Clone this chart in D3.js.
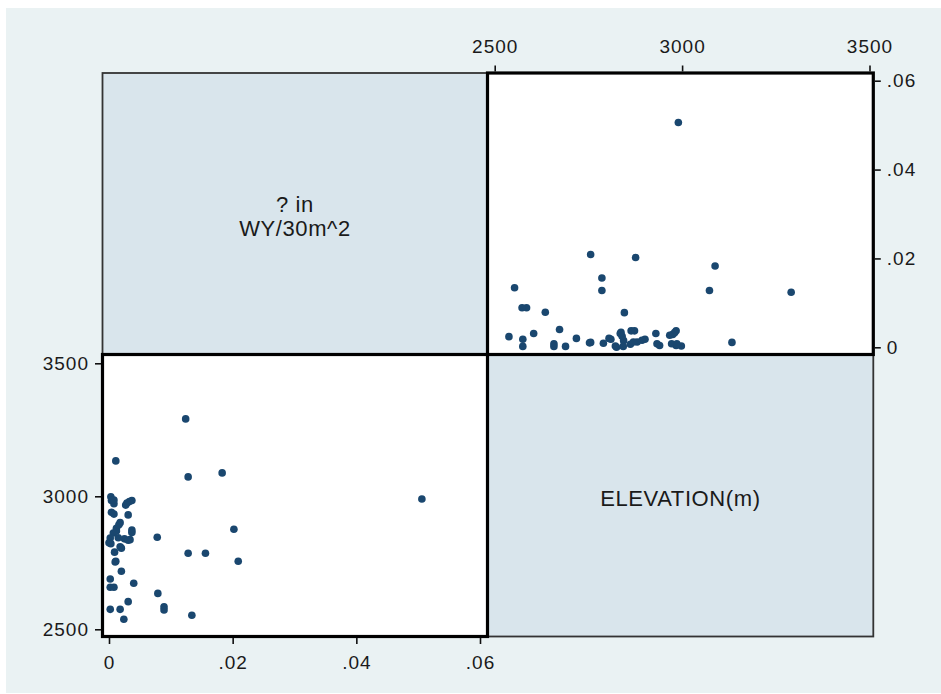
<!DOCTYPE html>
<html>
<head>
<meta charset="utf-8">
<script src="https://cdn.jsdelivr.net/npm/d3@7"></script>
<style>
	body { margin: 0; background: #ffffff; }
	svg text { font-family: Arial, "Liberation Sans", sans-serif; fill: #1a1a1a; }
	.tick text { font-size: 19px; letter-spacing: 1px; }
	.tick line { stroke: #111; stroke-width: 1.6; }
	.diagLabel { font-size: 22px; letter-spacing: 0.6px; }
</style>
</head>
<body>
<div id="chart"></div>
<script>

/**************************************************
 *                                                *
 *  DATA                                          *
 *                                                *
 **************************************************/

// variable names shown on the diagonal
var varLabels = [["? in", "WY/30m^2"], ["ELEVATION(m)"]];

// one observation per index: elevation (m) and ? in WY/30m^2
var elevation = [
	3291, 3133, 3088, 3073, 2990, 2998, 2984, 2940, 2984, 2980,
	2975, 2967, 2930, 2901, 2880, 2873, 2876, 2862, 2846, 2844,
	2843, 2840, 2837, 2825, 2822, 2810, 2805, 2790, 2786, 2786,
	2756, 2756, 2718, 2689, 2658, 2658, 2673, 2635, 2604, 2575,
	2575, 2585, 2573, 2538, 2553, 2835, 2864, 2870, 2933, 2972,
	2986, 2753, 2893
];
var wyValue = [
	0.0124, 0.0011, 0.0183, 0.0128, 0.0506, 0.0003, 0.0004, 0.0004, 0.0037, 0.0033,
	0.0029, 0.0027, 0.0031, 0.0018, 0.0012, 0.0037, 0.0202, 0.0007, 0.0078, 0.0015,
	0.0002, 0.0025, 0.0034, 0.0000, 0.0003, 0.0018, 0.0020, 0.0009, 0.0128, 0.0156,
	0.0011, 0.0209, 0.0020, 0.0002, 0.0002, 0.0008, 0.0040, 0.0079, 0.0031, 0.0002,
	0.0018, 0.0089, 0.0089, 0.0024, 0.0134, 0.0031, 0.0037, 0.0012, 0.0008, 0.0008,
	0.0008, 0.0010, 0.0016
];

// axis ticks
var elevTicks = [2500, 3000, 3500];
var wyTicks = [0, 0.02, 0.04, 0.06];


/**************************************************
 *                                                *
 *  SVG / PANELS                                  *
 *                                                *
 **************************************************/

var W = 941, H = 694;

// panel grid edges
var gx = [102.5, 487.5, 873.3],
	gy = [73, 354.5, 636.5];

var svg = d3.select('#chart').append('svg')
	.attr('width', W)
	.attr('height', H);

// outer graph region
svg.append('rect')
	.attr('x', 6).attr('y', 8)
	.attr('width', W - 6).attr('height', H - 9)
	.attr('fill', '#eaf2f3');

var points = elevation.map(function (e, i) { return { elev: e, wy: wyValue[i] }; });


//************ DIAGONAL ************

var diag = [
	{ x0: gx[0], x1: gx[1], y0: gy[0], y1: gy[1], lines: varLabels[0] },
	{ x0: gx[1], x1: gx[2], y0: gy[1], y1: gy[2], lines: varLabels[1] }
];

diag.forEach(function (p) {
	svg.append('rect')
		.attr('x', p.x0).attr('y', p.y0)
		.attr('width', p.x1 - p.x0).attr('height', p.y1 - p.y0)
		.attr('fill', '#d9e5ec')
		.attr('stroke', '#333')
		.attr('stroke-width', 1.8);

	var cx = (p.x0 + p.x1) / 2, cy = (p.y0 + p.y1) / 2;
	var lh = 24;
	// block of lines centred a little below the middle
	var first = cy + 10 - (p.lines.length - 1) * lh / 2;
	svg.append('text')
		.attr('class', 'diagLabel')
		.attr('text-anchor', 'middle')
		.selectAll('tspan')
		.data(p.lines).enter()
		.append('tspan')
		.attr('x', cx)
		.attr('y', function (d, i) { return first + i * lh; })
		.text(function (d) { return d; });
});


//************ SCALES ************

// top-right: x = elevation, y = wy
var xElevTR = d3.scaleLinear().domain([2500, 3500]).range([494.7, 869.5]);
var yWyTR = d3.scaleLinear().domain([0, 0.06]).range([347.3, 80.7]);

// bottom-left: x = wy, y = elevation
var xWyBL = d3.scaleLinear().domain([0, 0.06]).range([109, 480]);
var yElevBL = d3.scaleLinear().domain([2500, 3500]).range([629.3, 363.3]);

var fmtWy = function (d) { return d === 0 ? "0" : d3.format(".2f")(d).replace(/^0/, ""); };


//************ SCATTER PANELS ************

function scatterPanel(x0, x1, y0, y1, xs, ys, xKey, yKey) {
	var g = svg.append('g');
	g.append('rect')
		.attr('x', x0).attr('y', y0)
		.attr('width', x1 - x0).attr('height', y1 - y0)
		.attr('fill', '#ffffff');
	g.selectAll('circle')
		.data(points).enter()
		.append('circle')
		.attr('cx', function (d) { return xs(d[xKey]); })
		.attr('cy', function (d) { return ys(d[yKey]); })
		.attr('r', 3.8)
		.attr('fill', '#1a476f');
	g.append('rect')
		.attr('x', x0).attr('y', y0)
		.attr('width', x1 - x0).attr('height', y1 - y0)
		.attr('fill', 'none')
		.attr('stroke', '#000')
		.attr('stroke-width', 3.2);
}

scatterPanel(gx[1], gx[2], gy[0], gy[1], xElevTR, yWyTR, 'elev', 'wy');
scatterPanel(gx[0], gx[1], gy[1], gy[2], xWyBL, yElevBL, 'wy', 'elev');


//************ AXES ************

// top axis, elevation
svg.append('g')
	.attr('transform', 'translate(0,' + (gy[0] - 1.5) + ')')
	.call(d3.axisTop(xElevTR).tickValues(elevTicks).tickFormat(d3.format('d'))
		.tickSize(6).tickPadding(13))
	.call(function (g) { g.select('.domain').remove(); });

// right axis, wy
svg.append('g')
	.attr('transform', 'translate(' + (gx[2] + 1.5) + ',0)')
	.call(d3.axisRight(yWyTR).tickValues(wyTicks).tickFormat(fmtWy)
		.tickSize(6).tickPadding(6))
	.call(function (g) { g.select('.domain').remove(); });

// left axis, elevation
svg.append('g')
	.attr('transform', 'translate(' + (gx[0] - 1.5) + ',0)')
	.call(d3.axisLeft(yElevBL).tickValues(elevTicks).tickFormat(d3.format('d'))
		.tickSize(6).tickPadding(6))
	.call(function (g) { g.select('.domain').remove(); });

// bottom axis, wy
svg.append('g')
	.attr('transform', 'translate(0,' + (gy[2] + 1.5) + ')')
	.call(d3.axisBottom(xWyBL).tickValues(wyTicks).tickFormat(fmtWy)
		.tickSize(6).tickPadding(12))
	.call(function (g) { g.select('.domain').remove(); });

svg.selectAll('.tick text').attr('font-family', null).attr('font-size', null).attr('fill', null);

</script>
</body>
</html>
